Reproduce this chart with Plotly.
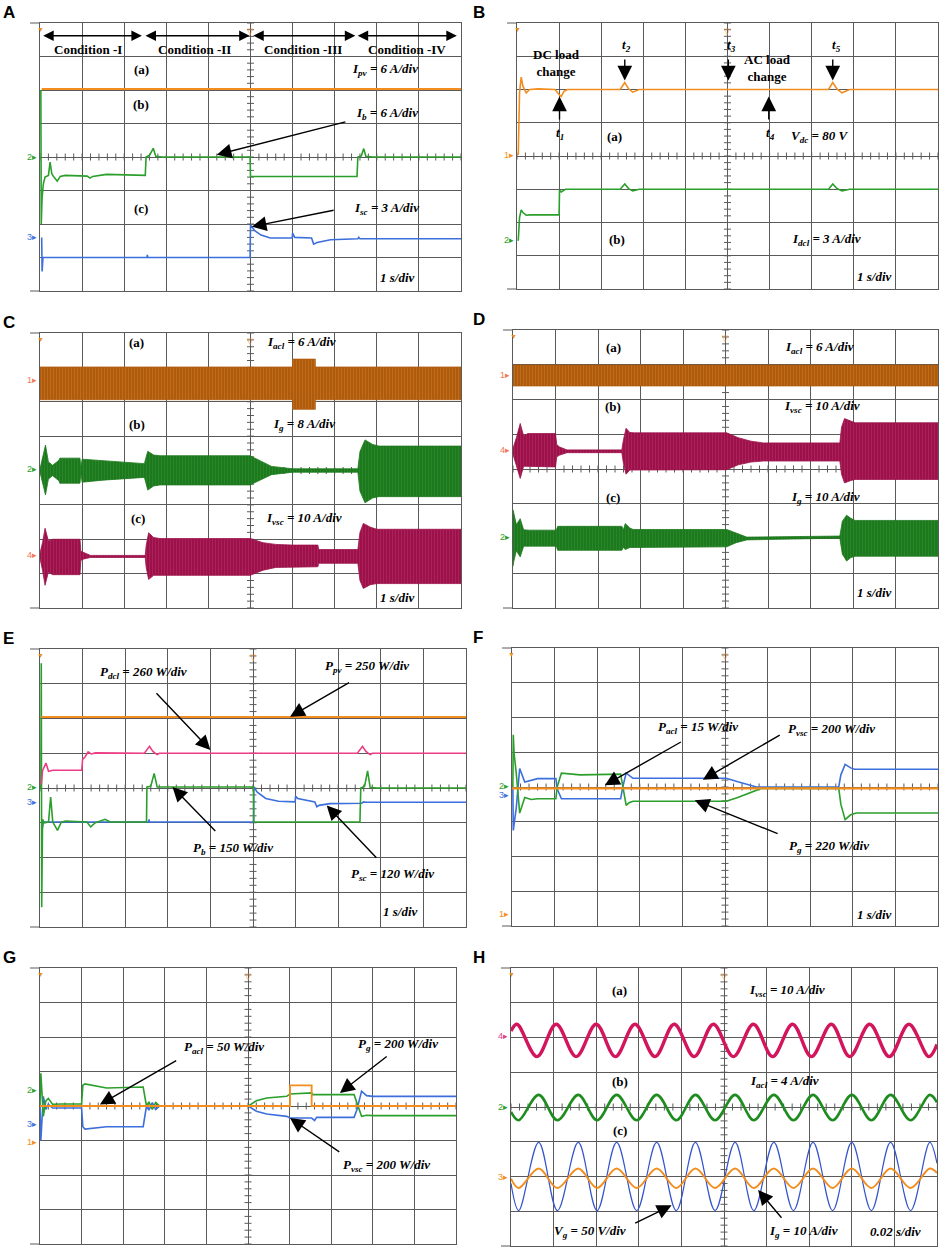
import plotly.graph_objects as go

FIG_W, FIG_H = 941, 1248
GRID = '#5a5a5a'
SERIF = 'Liberation Serif, Times New Roman, serif'
SANS = 'Liberation Sans, Arial, sans-serif'

ORANGE = '#f28d1e'
GREEN = '#2b9f2b'
BLUE = '#3c6fdc'
PINK = '#ec3d85'
SALMON = '#f2785a'

# plot boxes on the page, in pixels: left, top, right, bottom
BOXES = {
    'A': (40, 23, 461, 291),
    'B': (517, 23, 938, 289),
    'C': (40, 333, 461, 608),
    'D': (513, 330, 938, 608),
    'E': (40, 649, 466, 927),
    'F': (512, 648, 938, 926),
    'G': (40, 968, 456, 1244),
    'H': (511, 968, 937, 1246),
}

# ---------- A : PV, battery and SC currents (x in div, y in div)
a_ipv_x = [0.04, 10.0]
a_ipv_y = [2.03, 2.03]
a_ib_x = [0.02, 0.03, 0.05, 0.08, 0.12, 0.2, 0.24, 0.28, 0.33, 0.41, 0.48, 0.6, 1.12, 1.19, 1.25, 1.5, 1.58, 2.5, 2.52, 2.6, 2.69, 2.75, 2.9,
          4.99, 5.0, 7.53, 7.55, 7.63, 7.69, 7.74, 7.9, 10.0]
a_ib_y = [2.0, -2.0, -1.2, -0.8, -0.6, -0.55, -0.15, -0.5, -0.6, -0.72, -0.58, -0.55, -0.57, -0.63, -0.58, -0.55, -0.52, -0.55, 0.0, 0.05, 0.26, 0.02, 0.0,
          0.0, -0.58, -0.58, 0.0, 0.03, 0.25, 0.02, 0.0, 0.0]
a_isc_x = [0.04, 0.05, 0.07, 0.12, 2.54, 2.55, 2.56, 4.99, 5.0, 5.1, 5.25, 5.47, 5.99, 6.0, 6.05, 6.45, 6.5, 6.58, 6.9, 7.55, 7.57, 7.6, 10.0]
a_isc_y = [-2.4, -3.42, -3.0, -3.0, -3.0, -2.92, -3.0, -3.0, -2.03, -2.2, -2.33, -2.42, -2.42, -2.27, -2.4, -2.42, -2.6, -2.55, -2.47, -2.44, -2.4, -2.44, -2.44]

# ---------- B : DC bus voltage and DC load current
b_vdc_x = [0.03, 0.06, 0.1, 0.14, 0.22, 0.3, 0.5, 0.9, 1.0, 1.05, 1.12, 1.2, 2.45, 2.56, 2.65, 2.75, 2.9, 7.4, 7.5, 7.6, 7.72, 7.9, 10.0]
b_vdc_y = [0.03, 1.9, 2.37, 2.1, 1.9, 2.0, 2.02, 2.0, 1.85, 1.79, 1.95, 2.0, 2.0, 2.21, 2.02, 1.92, 2.0, 2.0, 2.21, 2.02, 1.9, 2.0, 2.0]
b_idcl_x = [0.03, 0.06, 0.1, 0.14, 0.22, 0.3, 1.0, 1.01, 1.05, 1.15, 1.3, 2.45, 2.56, 2.65, 2.75, 2.9, 7.4, 7.5, 7.6, 7.72, 7.9, 10.0]
b_idcl_y = [-2.55, -1.85, -1.62, -1.7, -1.78, -1.77, -1.77, -1.02, -1.08, -1.0, -1.0, -1.0, -0.84, -0.98, -1.05, -1.0, -1.0, -0.84, -0.98, -1.05, -1.0, -1.0]

# ---------- C : AC currents (envelopes of the fast waveforms)
c_iacl_x = [0.0, 6.0, 6.0, 6.54, 6.54, 10.0]
c_iacl_top = [3.01, 3.01, 3.24, 3.24, 3.01, 3.01]
c_iacl_bot = [2.06, 2.06, 1.78, 1.78, 2.06, 2.06]
c_ig_x = [0.0, 0.06, 0.13, 0.2, 0.3, 0.45, 0.47, 0.95, 0.97, 1.0, 1.5, 2.48, 2.5, 2.56, 2.7, 2.85, 4.99, 5.2, 5.5, 6.0, 7.55, 7.6, 7.72, 7.9, 8.05, 10.0]
c_ig_top = [0.05, 0.35, 0.74, 0.25, 0.15, 0.3, 0.36, 0.36, 0.08, 0.33, 0.28, 0.2, 0.3, 0.56, 0.45, 0.43, 0.43, 0.3, 0.12, 0.05, 0.05, 0.55, 0.89, 0.76, 0.71, 0.71]
c_ig_bot = [-0.05, -0.35, -0.71, -0.25, -0.15, -0.3, -0.37, -0.37, -0.08, -0.34, -0.28, -0.2, -0.3, -0.57, -0.45, -0.42, -0.42, -0.3, -0.12, -0.05, -0.05, -0.6, -0.94, -0.8, -0.76, -0.76]
c_ivsc_x = [0.0, 0.06, 0.12, 0.2, 0.3, 0.95, 0.97, 1.02, 1.2, 2.5, 2.52, 2.58, 2.7, 2.85, 4.99, 5.3, 5.6, 6.0, 6.6, 6.62, 7.55, 7.6, 7.68, 7.85, 8.0, 10.0]
c_ivsc_top = [-2.4, -2.1, -1.68, -2.05, -2.0, -2.0, -2.35, -2.38, -2.47, -2.47, -2.2, -1.81, -1.95, -1.98, -1.98, -2.1, -2.15, -2.17, -2.17, -2.3, -2.3, -1.8, -1.54, -1.65, -1.71, -1.71]
c_ivsc_bot = [-2.56, -2.9, -3.34, -2.95, -3.03, -3.03, -2.62, -2.58, -2.53, -2.53, -2.8, -3.17, -3.05, -3.05, -3.05, -2.9, -2.82, -2.8, -2.8, -2.7, -2.7, -3.2, -3.43, -3.32, -3.29, -3.29]

# ---------- D : AC currents, second case
d_iacl_x = [0.0, 10.0]
d_iacl_top = [2.99, 2.99]
d_iacl_bot = [2.39, 2.39]
d_ivsc_x = [0.0, 0.08, 0.17, 0.25, 0.35, 1.0, 1.03, 1.1, 1.27, 2.56, 2.6, 2.66, 2.75, 2.85, 5.03, 5.3, 5.6, 5.89, 7.69, 7.73, 7.8, 7.95, 8.05, 10.0]
d_ivsc_top = [0.6, 0.9, 1.31, 0.95, 1.02, 1.02, 0.7, 0.63, 0.55, 0.55, 0.85, 1.17, 1.05, 1.04, 1.04, 0.9, 0.8, 0.75, 0.75, 1.2, 1.45, 1.38, 1.33, 1.33]
d_ivsc_bot = [0.42, 0.1, -0.27, 0.08, 0.06, 0.06, 0.35, 0.4, 0.47, 0.47, 0.15, -0.15, -0.03, -0.02, -0.02, 0.12, 0.2, 0.23, 0.23, -0.15, -0.4, -0.33, -0.3, -0.3]
d_ig_x = [0.0, 0.02, 0.08, 0.17, 0.25, 0.37, 1.02, 1.05, 1.1, 2.56, 2.6, 2.64, 2.75, 2.83, 5.03, 5.25, 5.5, 7.69, 7.75, 7.85, 7.95, 8.05, 10.0]
d_ig_top = [-1.17, -1.3, -1.6, -1.43, -1.75, -1.76, -1.76, -1.65, -1.65, -1.65, -1.75, -1.57, -1.7, -1.74, -1.74, -1.85, -1.96, -1.93, -1.5, -1.33, -1.42, -1.48, -1.48]
d_ig_bot = [-2.8, -2.65, -2.35, -2.53, -2.22, -2.22, -2.22, -2.34, -2.34, -2.34, -2.25, -2.32, -2.26, -2.24, -2.24, -2.12, -2.04, -1.99, -2.45, -2.65, -2.55, -2.51, -2.51]

# ---------- E : powers on the DC side
e_ppv_x = [0.03, 10.0]
e_ppv_y = [2.04, 2.04]
e_pdcl_x = [0.03, 0.06, 0.14, 0.2, 0.3, 0.98, 1.0, 1.06, 1.13, 1.2, 1.3, 2.45, 2.57, 2.65, 2.75, 2.8, 7.45, 7.57, 7.65, 7.75, 7.8, 10.0]
e_pdcl_y = [0.1, 0.5, 0.72, 0.48, 0.51, 0.51, 0.82, 0.9, 1.04, 0.98, 1.01, 1.0, 1.2, 1.05, 0.96, 1.0, 1.0, 1.2, 1.05, 0.96, 1.0, 1.0]
e_pb_x = [0.02, 0.03, 0.04, 0.06, 0.1, 0.2, 0.25, 0.3, 0.41, 0.5, 0.6, 1.1, 1.19, 1.3, 1.53, 1.65, 2.5, 2.51, 2.6, 2.68,
          2.75, 2.85, 5.01, 5.02, 7.51, 7.53, 7.62, 7.69, 7.75, 7.9, 10.0]
e_pb_y = [0.0, 3.59, -3.43, -0.9, -1.0, -0.98, -0.26, -0.98, -1.22, -0.98, -0.95, -0.98, -1.12, -1.0, -0.9, -0.98, -0.98, 0.03, 0.05, 0.42,
          0.03, 0.03, 0.03, -0.98, -0.98, 0.0, 0.05, 0.49, 0.02, 0.0, 0.0]
e_psc_x = [0.04, 0.05, 0.08, 2.55, 2.56, 2.57, 5.01, 5.02, 5.1, 5.3, 5.6, 5.99, 6.0, 6.05, 6.45, 6.5, 6.55, 6.8, 7.55, 7.6, 7.65, 10.0]
e_psc_y = [-0.98, -1.2, -0.98, -0.98, -0.9, -0.98, -0.98, 0.03, -0.12, -0.3, -0.38, -0.4, -0.24, -0.3, -0.4, -0.54, -0.5, -0.45, -0.44, -0.4, -0.41, -0.41]

# ---------- F : powers on the AC side
f_pacl_x = [0.0, 10.0]
f_pacl_y = [-0.04, -0.04]
f_pvsc_x = [0.02, 0.03, 0.1, 0.18, 0.3, 0.45, 0.6, 1.03, 1.06, 1.16, 1.6, 2.55, 2.6, 2.68, 2.84, 5.03, 5.3, 5.74, 7.67, 7.72, 7.82, 7.95, 8.04, 10.0]
f_pvsc_y = [0.0, -1.25, -0.6, 0.53, 0.14, 0.2, 0.24, 0.24, -0.05, -0.34, -0.34, -0.34, 0.0, 0.4, 0.25, 0.25, 0.15, 0.0, 0.0, 0.35, 0.65, 0.55, 0.51, 0.51]
f_pg_x = [0.02, 0.03, 0.05, 0.1, 0.18, 0.3, 0.45, 0.6, 1.03, 1.06, 1.16, 1.6, 2.55, 2.6, 2.68, 2.75, 2.84, 5.03, 5.3, 5.85, 7.67, 7.72, 7.82, 7.95, 8.08, 10.0]
f_pg_y = [0.0, 1.5, 0.95, 0.4, -0.75, -0.3, -0.36, -0.34, -0.34, 0.0, 0.4, 0.35, 0.37, 0.0, -0.53, -0.45, -0.41, -0.41, -0.3, -0.04, -0.04, -0.5, -0.94, -0.8, -0.75, -0.75]

# ---------- G : powers on the AC side, second case
g_pacl_x = [0.0, 6.01, 6.01, 6.53, 6.53, 10.0]
g_pacl_y = [0.0, 0.0, 0.6, 0.6, 0.0, 0.0]
g_pg_x = [0.0, 0.02, 0.08, 0.14, 0.2, 0.3, 0.5, 1.0, 1.03, 1.08, 1.6, 2.48, 2.56, 2.62, 2.7, 2.78, 2.88, 5.01, 5.2, 5.45,
          5.93, 6.01, 6.53, 6.55, 7.55, 7.62, 7.73, 7.85, 8.0, 10.0]
g_pg_y = [0.0, 0.95, -0.3, 0.15, 0.22, 0.05, 0.06, 0.06, 0.6, 0.64, 0.52, 0.55, 0.0, 0.12, -0.1, 0.1, 0.0, 0.0, 0.15, 0.23,
          0.28, 0.35, 0.38, 0.33, 0.33, 0.1, -0.3, -0.27, -0.28, -0.28]
g_pvsc_x = [0.0, 0.02, 0.08, 0.14, 0.2, 0.3, 0.5, 1.0, 1.03, 1.08, 1.6, 2.48, 2.56, 2.62, 2.7, 2.78, 2.88, 5.01, 5.2, 5.45,
            5.93, 6.01, 6.53, 6.6, 6.65, 7.55, 7.62, 7.73, 7.85, 8.0, 10.0]
g_pvsc_y = [0.0, -1.0, 0.28, -0.1, 0.05, -0.06, -0.06, -0.06, -0.6, -0.67, -0.6, -0.6, 0.0, -0.12, 0.1, -0.1, 0.0, 0.0, -0.15, -0.23,
            -0.3, -0.35, -0.35, -0.42, -0.33, -0.33, -0.1, 0.43, 0.3, 0.28, 0.28]

# ---------- H : steady-state waveforms (peak / trough times)
h_ivsc_peaks = [0.14, 1.06, 2.0, 2.91, 3.83, 4.75, 5.69, 6.61, 7.52, 8.42, 9.34]
h_ivsc_troughs = [0.61, 1.53, 2.45, 3.38, 4.3, 5.22, 6.14, 7.05, 7.95, 8.88, 9.81]
h_ivsc_levels = [2.38, 1.45]          # peak, trough
h_ivsc_ends = [2.19, 1.8]             # value at x=0 and x=10
h_ac_peaks = [0.65, 1.58, 2.48, 3.42, 4.33, 5.26, 6.17, 7.09, 8.0, 8.91, 9.83]
h_ac_troughs = [0.18, 1.09, 2.02, 2.95, 3.88, 4.79, 5.7, 6.63, 7.55, 8.46, 9.38]
h_iacl_levels = [0.35, -0.38]
h_iacl_ends = [-0.14, 0.13]
h_vg_levels = [-1.02, -2.98]
h_vg_ends = [-2.2, -1.62]
h_ig_levels = [-1.77, -2.33]
h_ig_ends = [-2.06, -1.9]


def sfx(n):
    return '' if n == 1 else str(n)


fig = go.Figure()
panel_no = {k: i for i, k in enumerate('ABCDEFGH', start=1)}

for key, (l, t, r, b) in BOXES.items():
    n = panel_no[key]
    s = sfx(n)
    common = dict(showgrid=True, gridcolor=GRID, gridwidth=1, showline=True, linecolor=GRID, linewidth=1,
                  mirror=True, zeroline=False, showticklabels=False, ticks='', fixedrange=True)
    fig.update_layout(**{
        f'xaxis{s}': dict(domain=[l / FIG_W, r / FIG_W], range=[0, 10], dtick=1, tick0=0, anchor=f'y{s}', **common),
        f'yaxis{s}': dict(domain=[1 - b / FIG_H, 1 - t / FIG_H], range=[-4, 4], dtick=1, tick0=0, anchor=f'x{s}', **common),
    })
    # minor ticks along the centre cross of the graticule
    cx = [i * 0.2 for i in range(51)]
    cy = [-4 + i * 0.2 for i in range(41)]
    fig.add_trace(go.Scatter(x=cx, y=[0] * len(cx), xaxis=f'x{s}', yaxis=f'y{s}', mode='markers',
                             marker=dict(symbol='line-ns', size=5, line=dict(color=GRID, width=1)),
                             hoverinfo='skip', showlegend=False))
    fig.add_trace(go.Scatter(x=[5] * len(cy), y=cy, xaxis=f'x{s}', yaxis=f'y{s}', mode='markers',
                             marker=dict(symbol='line-ew', size=5, line=dict(color=GRID, width=1)),
                             hoverinfo='skip', showlegend=False))
    # frame overhang to the left, as on the scope screenshot
    for yy in (t, b):
        fig.add_shape(type='line', xref='paper', yref='paper', x0=(l - 10) / FIG_W, x1=l / FIG_W,
                      y0=1 - yy / FIG_H, y1=1 - yy / FIG_H, line=dict(color=GRID, width=1))
    # trigger / position markers along the top
    fig.add_annotation(xref=f'x{s}', yref=f'y{s}', x=0, y=4, text='▼', showarrow=False, yanchor='top',
                       font=dict(size=7, color=ORANGE))
    fig.add_annotation(xref=f'x{s}', yref=f'y{s}', x=5, y=4, text='▽', showarrow=False, yanchor='top',
                       font=dict(size=8, color=ORANGE))
    # panel letter
    fig.add_annotation(xref='paper', yref='paper', x=1 / FIG_W if l < 300 else 471 / FIG_W,
                       y=1 - (t - 22) / FIG_H, text=f'<b>{key}</b>', showarrow=False,
                       xanchor='left', yanchor='top', font=dict(family=SANS, size=17, color='black'))


def line(n, x, y, color, width=1.6):
    s = sfx(n)
    fig.add_trace(go.Scatter(x=x, y=y, xaxis=f'x{s}', yaxis=f'y{s}', mode='lines',
                             line=dict(color=color, width=width), hoverinfo='skip', showlegend=False))


def wave(n, peaks, troughs, levels, ends, color, width):
    pts = sorted([(p, levels[0]) for p in peaks] + [(q, levels[1]) for q in troughs])
    x = [0.0] + [p[0] for p in pts] + [10.0]
    y = [ends[0]] + [p[1] for p in pts] + [ends[1]]
    s = sfx(n)
    fig.add_trace(go.Scatter(x=x, y=y, xaxis=f'x{s}', yaxis=f'y{s}', mode='lines',
                             line=dict(color=color, width=width, shape='spline', smoothing=1.0),
                             hoverinfo='skip', showlegend=False))


def band(n, x, top, bot, dark, light):
    s = sfx(n)
    fig.add_trace(go.Scatter(x=x + x[::-1], y=top + bot[::-1], xaxis=f'x{s}', yaxis=f'y{s}', mode='lines',
                             fill='toself', fillcolor=dark, line=dict(color=dark, width=0.8),
                             fillpattern=dict(shape='|', bgcolor=dark, fgcolor=light, size=3, solidity=0.25),
                             hoverinfo='skip', showlegend=False))


def txt(n, x, y, s, size=13, xanchor='center'):
    fig.add_annotation(xref=f'x{sfx(n)}', yref=f'y{sfx(n)}', x=x, y=y, text=f'<b>{s}</b>', showarrow=False,
                       xanchor=xanchor, font=dict(family=SERIF, size=size, color='black'))


def arrow(n, x0, y0, x1, y1, both=False):
    s = sfx(n)
    fig.add_annotation(xref=f'x{s}', yref=f'y{s}', axref=f'x{s}', ayref=f'y{s}', x=x1, y=y1, ax=x0, ay=y0,
                       text='', showarrow=True, arrowhead=2, arrowsize=2.1 if not both else 1.5,
                       arrowwidth=1.4, arrowcolor='black', arrowside='end+start' if both else 'end')


def chan(n, label, y, color):
    fig.add_annotation(xref=f'x{sfx(n)} domain', yref=f'y{sfx(n)}', x=-0.003, y=y, text=f'{label}▸',
                       showarrow=False, xanchor='right', font=dict(family=SANS, size=9, color=color))


# ---- A
line(1, a_isc_x, a_isc_y, BLUE)
line(1, a_ib_x, a_ib_y, GREEN)
line(1, a_ipv_x, a_ipv_y, ORANGE, 2)
for x0, x1 in [(0.04, 2.42), (2.47, 4.98), (5.03, 7.49), (7.51, 9.9)]:
    arrow(1, x0, 3.62, x1, 3.62, both=True)
for x, lab in [(1.13, 'Condition -I'), (3.66, 'Condition -II'), (6.24, 'Condition -III'), (8.72, 'Condition -IV')]:
    txt(1, x, 3.22, lab)
txt(1, 2.42, 2.61, '(a)')
txt(1, 8.2, 2.61, '<i>I<sub>pv</sub> = 6 A/div</i>')
txt(1, 2.39, 1.56, '(b)')
txt(1, 8.24, 1.31, '<i>I<sub>b</sub> = 6 A/div</i>')
arrow(1, 7.29, 1.06, 4.2, 0.07)
txt(1, 2.41, -1.55, '(c)')
txt(1, 8.24, -1.55, '<i>I<sub>sc</sub> = 3 A/div</i>')
arrow(1, 7.01, -1.58, 5.03, -2.08)
txt(1, 8.48, -3.6, '<i>1 s/div</i>')
chan(1, '2', 0.0, GREEN)
chan(1, '3', -2.4, BLUE)

# ---- B
line(2, b_idcl_x, b_idcl_y, GREEN)
line(2, b_vdc_x, b_vdc_y, ORANGE)
txt(2, 0.95, 2.8, 'DC load<br>change')
txt(2, 5.96, 2.66, 'AC load<br>change')
for x, lab in [(2.61, '2'), (5.1, '3'), (7.58, '5')]:
    txt(2, x, 3.33, f'<i>t<sub>{lab}</sub></i>')
for x in (2.56, 5.02, 7.5):
    arrow(2, x, 2.95, x, 2.27)
for x, lab in [(1.01, '1'), (6.02, '4')]:
    txt(2, x, 0.69, f'<i>t<sub>{lab}</sub></i>')
for x in (1.01, 5.98):
    arrow(2, x, 1.05, x, 1.79)
txt(2, 2.32, 0.59, '(a)')
txt(2, 7.18, 0.59, '<i>V<sub>dc</sub> = 80 V</i>')
txt(2, 2.38, -2.51, '(b)')
txt(2, 7.36, -2.51, '<i>I<sub>dcl</sub> = 3 A/div</i>')
txt(2, 8.5, -3.61, '<i>1 s/div</i>')
chan(2, '1', 0.03, ORANGE)
chan(2, '2', -2.53, GREEN)

# ---- C
band(3, c_iacl_x, c_iacl_top, c_iacl_bot, '#b05a0c', '#d68a3a')
band(3, c_ig_x, c_ig_top, c_ig_bot, '#1d791d', '#3a9a3a')
band(3, c_ivsc_x, c_ivsc_top, c_ivsc_bot, '#9c1149', '#c43b74')
txt(3, 2.3, 3.73, '(a)')
txt(3, 6.22, 3.73, '<i>I<sub>acl</sub> = 6 A/div</i>')
txt(3, 2.3, 1.35, '(b)')
txt(3, 6.26, 1.35, '<i>I<sub>g</sub> = 8 A/div</i>')
txt(3, 2.32, -1.41, '(c)')
txt(3, 6.26, -1.41, '<i>I<sub>vsc</sub> = 10 A/div</i>')
txt(3, 8.49, -3.68, '<i>1 s/div</i>')
chan(3, '1', 2.64, SALMON)
chan(3, '2', 0.03, GREEN)
chan(3, '4', -2.46, SALMON)

# ---- D
band(4, d_iacl_x, d_iacl_top, d_iacl_bot, '#b05a0c', '#d68a3a')
band(4, d_ivsc_x, d_ivsc_top, d_ivsc_bot, '#9c1149', '#c43b74')
band(4, d_ig_x, d_ig_top, d_ig_bot, '#1d791d', '#3a9a3a')
txt(4, 2.36, 3.5, '(a)')
txt(4, 7.22, 3.5, '<i>I<sub>acl</sub> = 6 A/div</i>')
txt(4, 2.36, 1.81, '(b)')
txt(4, 7.26, 1.79, '<i>I<sub>vsc</sub> = 10 A/div</i>')
txt(4, 2.36, -0.83, '(c)')
txt(4, 7.36, -0.83, '<i>I<sub>g</sub> = 10 A/div</i>')
txt(4, 8.5, -3.56, '<i>1 s/div</i>')
chan(4, '1', 2.7, SALMON)
chan(4, '4', 0.54, SALMON)
chan(4, '2', -1.96, GREEN)

# ---- E
line(5, e_psc_x, e_psc_y, BLUE)
line(5, e_pb_x, e_pb_y, GREEN)
line(5, e_pdcl_x, e_pdcl_y, PINK)
line(5, e_ppv_x, e_ppv_y, ORANGE, 2)
txt(5, 2.43, 3.32, '<i>P<sub>dcl</sub> = 260 W/div</i>')
txt(5, 7.67, 3.49, '<i>P<sub>pv</sub> = 250 W/div</i>')
arrow(5, 7.29, 3.06, 5.87, 2.05)
arrow(5, 2.7, 2.77, 4.0, 1.09)
txt(5, 4.54, -1.73, '<i>P<sub>b</sub> = 150 W/div</i>')
arrow(5, 4.15, -1.28, 3.11, 0.03)
txt(5, 8.27, -2.49, '<i>P<sub>sc</sub> = 120 W/div</i>')
arrow(5, 7.93, -2.05, 6.73, -0.5)
txt(5, 8.47, -3.55, '<i>1 s/div</i>')
chan(5, '2', 0.03, GREEN)
chan(5, '3', -0.41, BLUE)

# ---- F
line(6, f_pvsc_x, f_pvsc_y, BLUE)
line(6, f_pg_x, f_pg_y, GREEN)
line(6, f_pacl_x, f_pacl_y, ORANGE, 2.4)
txt(6, 4.37, 1.71, '<i>P<sub>acl</sub> = 15 W/div</i>')
arrow(6, 4.0, 1.32, 2.18, 0.05)
txt(6, 7.51, 1.65, '<i>P<sub>vsc</sub> = 200 W/div</i>')
arrow(6, 6.32, 1.52, 4.48, 0.21)
txt(6, 7.43, -1.7, '<i>P<sub>g</sub> = 220 W/div</i>')
arrow(6, 6.27, -1.36, 4.29, -0.38)
txt(6, 8.5, -3.67, '<i>1 s/div</i>')
chan(6, '2', 0.02, GREEN)
chan(6, '3', -0.22, BLUE)
chan(6, '1', -3.65, ORANGE)

# ---- G
line(7, g_pvsc_x, g_pvsc_y, BLUE)
line(7, g_pg_x, g_pg_y, GREEN)
line(7, g_pacl_x, g_pacl_y, ORANGE, 1.8)
txt(7, 4.42, 1.7, '<i>P<sub>acl</sub> = 50 W/div</i>')
arrow(7, 3.31, 1.34, 1.44, 0.04)
txt(7, 8.6, 1.78, '<i>P<sub>g</sub> = 200 W/div</i>')
arrow(7, 8.37, 1.47, 7.21, 0.38)
txt(7, 8.33, -1.72, '<i>P<sub>vsc</sub> = 200 W/div</i>')
arrow(7, 7.23, -1.36, 6.01, -0.35)
chan(7, '2', 0.47, GREEN)
chan(7, '3', -0.52, BLUE)
chan(7, '1', -1.04, ORANGE)

# ---- H
wave(8, h_ivsc_peaks, h_ivsc_troughs, h_ivsc_levels, h_ivsc_ends, '#d3155d', 3.4)
wave(8, h_ac_peaks, h_ac_troughs, h_iacl_levels, h_iacl_ends, '#1f8c1f', 2.6)
wave(8, h_ac_peaks, h_ac_troughs, h_vg_levels, h_vg_ends, '#3454cc', 1.2)
wave(8, h_ac_peaks, h_ac_troughs, h_ig_levels, h_ig_ends, '#f28d1e', 2.0)
txt(8, 2.55, 3.36, '(a)')
txt(8, 6.49, 3.36, '<i>I<sub>vsc</sub> = 10 A/div</i>')
txt(8, 2.55, 0.73, '(b)')
txt(8, 6.43, 0.73, '<i>I<sub>acl</sub> = 4 A/div</i>')
txt(8, 2.55, -0.69, '(c)')
txt(8, 1.86, -3.57, '<i>V<sub>g</sub> = 50 V/div</i>')
arrow(8, 2.88, -3.36, 3.77, -2.83)
txt(8, 6.86, -3.57, '<i>I<sub>g</sub> = 10 A/div</i>')
arrow(8, 6.38, -3.23, 5.8, -2.39)
txt(8, 9.03, -3.57, '<i>0.02 s/div</i>')
chan(8, '4', 2.03, '#e0408a')
chan(8, '2', 0.0, GREEN)
chan(8, '3', -2.0, ORANGE)

fig.update_layout(width=FIG_W, height=FIG_H, margin=dict(l=0, r=0, t=0, b=0),
                  paper_bgcolor='white', plot_bgcolor='white', showlegend=False)

# the page body keeps an 8px default margin; drop it so the figure sits at the top-left corner
fig.write_html("out.html", config={'displayModeBar': False},
               post_script="document.body.style.margin='0';")
